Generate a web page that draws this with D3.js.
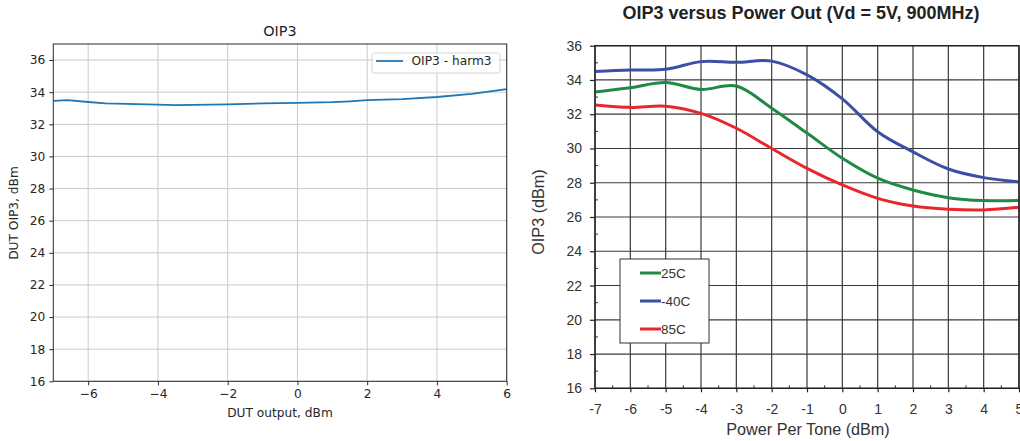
<!DOCTYPE html>
<html>
<head>
<meta charset="utf-8">
<script src="https://cdn.jsdelivr.net/npm/d3@7"></script>
<style>
  body { margin: 0; background: #fff; }
  svg { display: block; }
</style>
</head>
<body>
<div id="chart"></div>
<script>
// left panel: measured OIP3 (harm3) vs DUT output
const harmX     = [-7, -6.6, -6, -5.5, -4, -3.5, -2, -1, 0, 1, 1.5, 2, 3, 4, 5, 6];
const harmOip3  = [33.46, 33.5, 33.39, 33.3, 33.22, 33.19, 33.24, 33.3, 33.34, 33.38, 33.43, 33.5, 33.57, 33.7, 33.9, 34.19];
const leftXTicks = [-6, -4, -2, 0, 2, 4, 6];
const leftYTicks = [16, 18, 20, 22, 24, 26, 28, 30, 32, 34, 36];

// right panel: datasheet curves vs power per tone
const toneX     = [-7, -6, -5, -4, -3, -2, -1, 0, 1, 2, 3, 4, 5];
const oip3_25C  = [33.3, 33.55, 33.85, 33.45, 33.65, 32.35, 30.9, 29.43, 28.27, 27.58, 27.13, 26.96, 26.96];
const oip3_m40C = [34.5, 34.58, 34.62, 35.07, 35.03, 35.1, 34.3, 32.9, 30.98, 29.8, 28.8, 28.3, 28.05];
const oip3_85C  = [32.54, 32.4, 32.47, 32.05, 31.18, 30.0, 28.84, 27.87, 27.09, 26.64, 26.45, 26.41, 26.57];
const seriesNames = ["25C", "-40C", "85C"];
const seriesColors = ["#1f8a46", "#3b4fa6", "#e8262b"];
const rightXTicks = [-7, -6, -5, -4, -3, -2, -1, 0, 1, 2, 3, 4, 5];
const rightYTicks = [16, 18, 20, 22, 24, 26, 28, 30, 32, 34, 36];

const W = 1020, H = 441;
const svg = d3.select("#chart").append("svg").attr("width", W).attr("height", H);

function drawLeft(){
    const mpl = "DejaVu Sans, sans-serif";
    const fs = 12.2;
    const x = d3.scaleLinear().domain([-7, 6]).range([53.3, 506.7]);
    const y = d3.scaleLinear().domain([16, 37]).range([381.3, 44]);
    const g = svg.append("g");

    // grid
    g.append("g").selectAll("line").data(leftXTicks).enter().append("line")
        .attr("x1", d => x(d)).attr("x2", d => x(d))
        .attr("y1", y(37)).attr("y2", y(16))
        .attr("stroke", "#cbcbcb").attr("stroke-width", 1);
    g.append("g").selectAll("line").data(leftYTicks).enter().append("line")
        .attr("x1", x(-7)).attr("x2", x(6))
        .attr("y1", d => y(d)).attr("y2", d => y(d))
        .attr("stroke", "#cbcbcb").attr("stroke-width", 1);

    // the series
    const line = d3.line().x((d, i) => x(harmX[i])).y(d => y(d));
    g.append("path").datum(harmOip3)
        .attr("d", line)
        .attr("fill", "none")
        .attr("stroke", "#1f77b4")
        .attr("stroke-width", 1.8);

    // frame
    g.append("rect")
        .attr("x", x(-7)).attr("y", y(37))
        .attr("width", x(6) - x(-7)).attr("height", y(16) - y(37))
        .attr("fill", "none").attr("stroke", "#2b2b2b").attr("stroke-width", 1);

    // axes
    const xAxis = g.append("g").attr("transform", `translate(0,${y(16)})`)
        .call(d3.axisBottom(x).tickValues(leftXTicks).tickSize(4).tickPadding(4).tickSizeOuter(0));
    const yAxis = g.append("g").attr("transform", `translate(${x(-7)},0)`)
        .call(d3.axisLeft(y).tickValues(leftYTicks).tickSize(4).tickPadding(4).tickSizeOuter(0));
    for (const a of [xAxis, yAxis]){
        a.select(".domain").remove();
        a.selectAll("line").attr("stroke", "#2b2b2b");
        a.selectAll("text").attr("font-family", mpl).attr("font-size", fs).attr("fill", "#262626");
    }

    g.append("text").attr("x", 280).attr("y", 36)
        .attr("text-anchor", "middle").attr("font-family", mpl).attr("font-size", 14.4)
        .attr("fill", "#262626").text("OIP3");
    g.append("text").attr("x", 280).attr("y", 417)
        .attr("text-anchor", "middle").attr("font-family", mpl).attr("font-size", fs)
        .attr("fill", "#262626").text("DUT output, dBm");
    g.append("text").attr("transform", "translate(18,213) rotate(-90)")
        .attr("text-anchor", "middle").attr("font-family", mpl).attr("font-size", fs)
        .attr("fill", "#262626").text("DUT OIP3, dBm");

    // legend
    const lg = g.append("g");
    lg.append("rect").attr("x", 372).attr("y", 53).attr("width", 128).attr("height", 20)
        .attr("rx", 2).attr("fill", "#fff").attr("fill-opacity", 0.8)
        .attr("stroke", "#d4d4d4").attr("stroke-width", 1);
    lg.append("line").attr("x1", 376).attr("x2", 403).attr("y1", 61).attr("y2", 61)
        .attr("stroke", "#1f77b4").attr("stroke-width", 1.8);
    lg.append("text").attr("x", 411.5).attr("y", 65.3)
        .attr("font-family", mpl).attr("font-size", fs).attr("fill", "#262626")
        .text("OIP3 - harm3");
}

function drawRight(){
    const font = "Liberation Sans, Arial, sans-serif";
    const x = d3.scaleLinear().domain([-7, 5]).range([595, 1019]);
    const y = d3.scaleLinear().domain([16, 36]).range([388.3, 45.7]);
    const g = svg.append("g");

    // grid
    g.append("g").selectAll("line").data(rightXTicks).enter().append("line")
        .attr("x1", d => x(d)).attr("x2", d => x(d))
        .attr("y1", y(36)).attr("y2", y(16))
        .attr("stroke", "#3a3a3a").attr("stroke-width", 1.2);
    g.append("g").selectAll("line").data(rightYTicks).enter().append("line")
        .attr("x1", x(-7)).attr("x2", x(5))
        .attr("y1", d => y(d)).attr("y2", d => y(d))
        .attr("stroke", "#3a3a3a").attr("stroke-width", 1.2);

    // minor ticks (odd y values inside, half steps on x)
    const yMinor = d3.range(17, 36, 2);
    g.append("g").selectAll("line").data(yMinor).enter().append("line")
        .attr("x1", x(-7)).attr("x2", x(-7) + 3)
        .attr("y1", d => y(d)).attr("y2", d => y(d))
        .attr("stroke", "#333").attr("stroke-width", 1);
    const xMinor = rightXTicks.slice(0, -1).map(d => d + 0.5);
    g.append("g").selectAll("line").data(xMinor).enter().append("line")
        .attr("x1", d => x(d)).attr("x2", d => x(d))
        .attr("y1", y(16)).attr("y2", y(16) - 3)
        .attr("stroke", "#333").attr("stroke-width", 1);

    // curves
    const series = [oip3_25C, oip3_m40C, oip3_85C];
    const line = d3.line().x((d, i) => x(toneX[i])).y(d => y(d)).curve(d3.curveCatmullRom.alpha(0.5));
    g.append("g").selectAll("path").data(series).enter().append("path")
        .attr("d", line)
        .attr("fill", "none")
        .attr("stroke", (d, i) => seriesColors[i])
        .attr("stroke-width", 3)
        .attr("stroke-linejoin", "round");

    // frame
    g.append("rect")
        .attr("x", x(-7)).attr("y", y(36))
        .attr("width", x(5) - x(-7)).attr("height", y(16) - y(36))
        .attr("fill", "none").attr("stroke", "#222").attr("stroke-width", 1.4);

    // axes
    const xAxis = g.append("g").attr("transform", `translate(0,${y(16)})`)
        .call(d3.axisBottom(x).tickValues(rightXTicks).tickFormat(d => String(d))
            .tickSize(4).tickPadding(12).tickSizeOuter(0));
    const yAxis = g.append("g").attr("transform", `translate(${x(-7)},0)`)
        .call(d3.axisLeft(y).tickValues(rightYTicks).tickFormat(d => String(d))
            .tickSize(5).tickPadding(8).tickSizeOuter(0));
    for (const a of [xAxis, yAxis]){
        a.select(".domain").remove();
        a.selectAll("line").attr("stroke", "#222").attr("stroke-width", 1.2);
        a.selectAll("text").attr("font-family", font).attr("font-size", 14).attr("fill", "#333");
    }

    g.append("text").attr("x", 801).attr("y", 19)
        .attr("text-anchor", "middle").attr("font-family", font).attr("font-weight", "bold")
        .attr("font-size", 17.5).attr("fill", "#222")
        .attr("textLength", 357).attr("lengthAdjust", "spacingAndGlyphs")
        .text("OIP3 versus Power Out (Vd = 5V, 900MHz)");
    g.append("text").attr("x", 808).attr("y", 435)
        .attr("text-anchor", "middle").attr("font-family", font).attr("font-size", 16.2)
        .attr("fill", "#333").text("Power Per Tone (dBm)");
    g.append("text").attr("transform", "translate(544,212) rotate(-90)")
        .attr("text-anchor", "middle").attr("font-family", font).attr("font-size", 16.2)
        .attr("fill", "#333").text("OIP3 (dBm)");

    // legend
    const lg = g.append("g");
    lg.append("rect").attr("x", 620).attr("y", 259).attr("width", 89).attr("height", 84)
        .attr("fill", "#fff").attr("stroke", "#333").attr("stroke-width", 1);
    seriesNames.forEach((name, i) => {
        const ly = 273 + i * 28;
        lg.append("line").attr("x1", 640).attr("x2", 661).attr("y1", ly).attr("y2", ly)
            .attr("stroke", seriesColors[i]).attr("stroke-width", 3);
        lg.append("text").attr("x", 661).attr("y", ly + 5)
            .attr("font-family", font).attr("font-size", 13.5).attr("fill", "#333")
            .text(name);
    });
}

drawLeft();
drawRight();
</script>
</body>
</html>
